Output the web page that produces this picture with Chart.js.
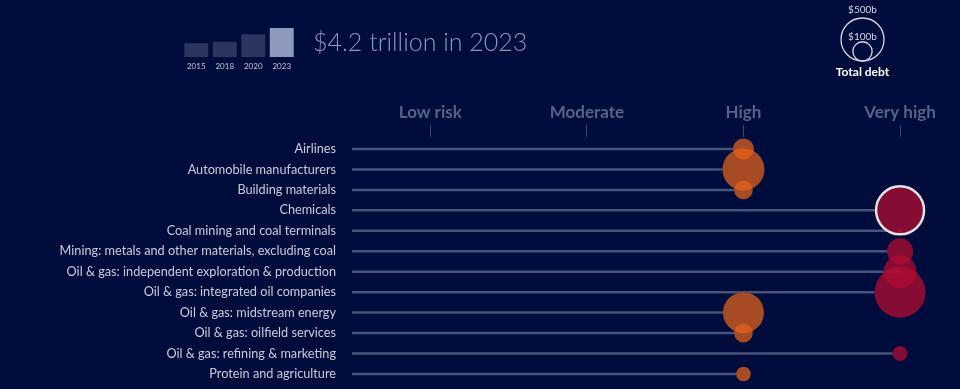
<!DOCTYPE html>
<html><head><meta charset="utf-8">
<script src="https://cdn.jsdelivr.net/npm/chart.js@4.4.0/dist/chart.umd.min.js"></script>
<style>
html,body{margin:0;padding:0;background:#000c3b;width:960px;height:389px;overflow:hidden;font-family:Lato,sans-serif}
#c{position:absolute;left:0;top:0;width:960px;height:389px}
#m{position:absolute;left:182px;top:20px;width:114px;height:60px}
#title{position:absolute;left:313px;top:29px;font-size:25px;font-weight:300;color:#8d98ba;white-space:nowrap;line-height:1;font-family:Lato,sans-serif}
</style></head><body>
<canvas id="c" width="960" height="389"></canvas>
<canvas id="m" width="114" height="60"></canvas>
<div id="title">$4.2 trillion in 2023</div>
<script>
const categories = [
  'Airlines',
  'Automobile manufacturers',
  'Building materials',
  'Chemicals',
  'Coal mining and coal terminals',
  'Mining: metals and other materials, excluding coal',
  'Oil & gas: independent exploration & production',
  'Oil & gas: integrated oil companies',
  'Oil & gas: midstream energy',
  'Oil & gas: oilfield services',
  'Oil & gas: refining & marketing',
  'Protein and agriculture'
];
const riskLevels = ['Low risk', 'Moderate', 'High', 'Very high'];
const sectorRisk = ['High','High','High','Very high','Very high','Very high','Very high','Very high','High','High','Very high','High'];
const debtBillions = [119, 477, 94, 623, 4, 183, 294, 703, 455, 94, 61, 58];
const highlighted = ['Chemicals'];
const years = ['2015', '2018', '2020', '2023'];
const totalDebtTrillions = [2.0, 2.2, 3.3, 4.2];
const legendSizes = [500, 100];

const MAX_R = 21.5, REF = 500;
const radius = v => MAX_R * Math.sqrt(v / REF);
const riskColor = { 'High': 'rgba(232,100,28,0.72)', 'Very high': 'rgba(178,12,50,0.75)' };

const lineSets = categories.map((c, i) => ({
  type: 'line',
  data: [{ x: -0.5, y: i }, { x: riskLevels.indexOf(sectorRisk[i]), y: i }],
  borderColor: '#49527b',
  borderWidth: 2.5,
  pointRadius: 0,
  borderCapStyle: 'butt',
  order: 1
}));

const bubbleSet = {
  type: 'bubble',
  data: categories.map((c, i) => ({ x: riskLevels.indexOf(sectorRisk[i]), y: i, r: radius(debtBillions[i]) })),
  backgroundColor: categories.map((c, i) => riskColor[sectorRisk[i]]),
  borderColor: categories.map(c => highlighted.includes(c) ? '#e2e2e6' : 'rgba(0,0,0,0)'),
  borderWidth: categories.map(c => highlighted.includes(c) ? 2.5 : 0),
  clip: false,
  order: 0
};

// Hide the stems underneath the bubbles (stems end at the bubble edge)
const stemMask = {
  id: 'stemMask',
  beforeDatasetDraw(chart, args) {
    if (args.meta.type !== 'line') return;
    const bm = chart.getDatasetMeta(0);
    const ctx = chart.ctx;
    ctx.save();
    ctx.beginPath();
    ctx.rect(0, 0, chart.width, chart.height);
    bm.data.forEach((el, i) => {
      const r = bubbleSet.data[i].r;
      ctx.moveTo(el.x + r, el.y);
      ctx.arc(el.x, el.y, r, 0, Math.PI * 2, true);
    });
    ctx.clip('evenodd');
  },
  afterDatasetDraw(chart, args) {
    if (args.meta.type !== 'line') return;
    chart.ctx.restore();
  }
};

const legendPlugin = {
  id: 'sizeLegend',
  afterDraw(chart) {
    const ctx = chart.ctx;
    const cx = 862.5, base = 61;
    ctx.save();
    ctx.strokeStyle = '#d5d8e3';
    ctx.lineWidth = 1.3;
    legendSizes.forEach(v => {
      const r = radius(v);
      ctx.beginPath();
      ctx.arc(cx, base - r, r, 0, Math.PI * 2);
      ctx.stroke();
    });
    ctx.fillStyle = '#d5d8e3';
    ctx.textAlign = 'center';
    ctx.textBaseline = 'middle';
    ctx.font = '10px Lato, sans-serif';
    ctx.fillText('$' + legendSizes[0] + 'b', cx, 9.5);
    ctx.fillText('$' + legendSizes[1] + 'b', cx, 37);
    ctx.fillStyle = '#ffffff';
    ctx.font = 'bold 12px Lato, sans-serif';
    ctx.fillText('Total debt', cx, 72);
    ctx.restore();
  }
};

new Chart(document.getElementById('c'), {
  type: 'bubble',
  data: { datasets: [bubbleSet, ...lineSets] },
  options: {
    responsive: false,
    animation: false,
    devicePixelRatio: 1,
    layout: { autoPadding: false, padding: { top: 95, bottom: 0, left: 0, right: 20.8 } },
    plugins: { legend: { display: false }, tooltip: { enabled: false } },
    scales: {
      x: {
        type: 'linear',
        position: 'top',
        min: -0.5,
        max: 3.25,
        afterBuildTicks: s => { s.ticks = riskLevels.map((l, i) => ({ value: i })); },
        afterFit: s => { s.height = 42; },
        grid: { drawOnChartArea: false, drawTicks: true, tickLength: 12, color: '#3b4470', lineWidth: 1 },
        border: { display: false },
        ticks: {
          autoSkip: false, maxRotation: 0, padding: 2,
          color: '#59628a',
          font: { family: 'Lato', weight: 'bold', size: 17 },
          callback: v => riskLevels[v]
        }
      },
      y: {
        type: 'linear',
        reverse: true,
        min: -0.587,
        max: 11.362,
        afterBuildTicks: s => { s.ticks = categories.map((c, i) => ({ value: i })); },
        afterFit: s => { s.width = 352; },
        grid: { display: true, drawOnChartArea: false, drawTicks: true, tickLength: 16, color: 'rgba(0,0,0,0)' },
        border: { display: false },
        ticks: {
          autoSkip: false, padding: 0,
          color: '#c8ccdc',
          font: { family: 'Lato', size: 12.7 },
          callback: v => categories[v]
        }
      }
    }
  },
  plugins: [stemMask, legendPlugin]
});

new Chart(document.getElementById('m'), {
  type: 'bar',
  data: {
    labels: years,
    datasets: [{
      data: totalDebtTrillions,
      backgroundColor: years.map((y, i) => i === years.length - 1 ? '#8e9abd' : '#2b3560'),
      barPercentage: 0.84,
      categoryPercentage: 1
    }]
  },
  options: {
    responsive: false,
    animation: false,
    devicePixelRatio: 1,
    layout: { padding: 0 },
    plugins: { legend: { display: false }, tooltip: { enabled: false } },
    scales: {
      x: {
        grid: { display: false },
        border: { display: false },
        afterFit: s => { s.height = 23; },
        ticks: { color: '#c3c7d6', font: { family: 'Lato', size: 8 }, padding: -3, maxRotation: 0 }
      },
      y: { display: false, min: 0, max: 5.36 }
    }
  }
});
</script>
</body></html>
